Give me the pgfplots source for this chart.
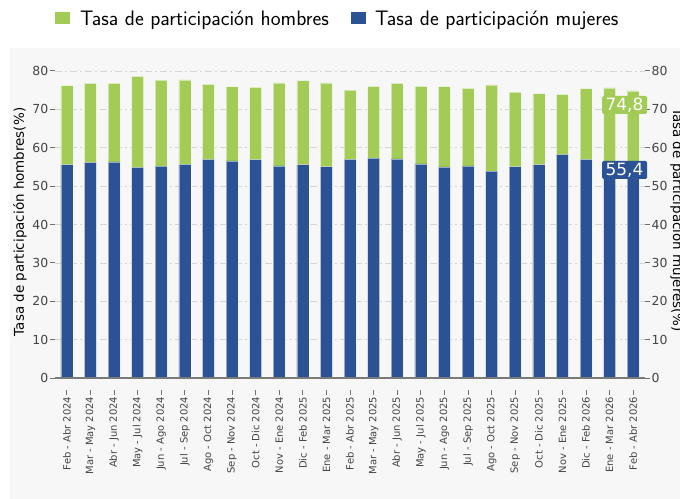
\documentclass[border=0pt]{standalone}
\usepackage{fontspec}
\setmainfont{DejaVu Sans}
\usepackage{pgfplots}
\pgfplotsset{compat=1.18}
\definecolor{bgc}{HTML}{F7F7F7}
\definecolor{gcol}{HTML}{A2CC55}
\definecolor{bcol}{HTML}{2A5294}
\definecolor{txt}{HTML}{444444}
\definecolor{tickc}{HTML}{707070}
\definecolor{gridc}{HTML}{D6D6D6}
\definecolor{zcol}{HTML}{7A7A7A}
\pgfplotsset{
  common/.style={
    at={(55bp,109bp)}, anchor=south west, scale only axis,
    width=590bp, height=319bp,
    xmin=-0.5, xmax=24.5, ymin=-3.1, ymax=80,
    ytick={0,10,...,80},
    axis line style={draw=none},
    tick align=outside,
    major tick length=5bp,
    tick style={tickc, line width=1bp},
    /pgf/number format/assume math mode=true,
    yticklabel style={font=\fontsize{12.5}{14}\selectfont, text=txt, inner sep=1.5bp},
  }
}
\begin{document}
\begin{tikzpicture}[x=1bp,y=1bp]
\useasboundingbox (0,0) rectangle (680,499);
\fill[white] (0,0) rectangle (680,499);
\fill[bgc] (10,0) rectangle (680,451);
\begin{axis}[common,
  axis x line*=bottom, axis y line*=left,
  ymajorgrids,
  major grid style={gridc, line width=0.8bp, dash pattern=on 7bp off 3bp on 2bp off 3bp},
  ybar, bar width=12bp,
  xtick={0,...,24},
  xticklabels={Feb - Abr 2024, Mar - May 2024, Abr - Jun 2024, May - Jul 2024, Jun - Ago 2024, Jul - Sep 2024, Ago - Oct 2024, Sep - Nov 2024, Oct - Dic 2024, Nov - Ene 2024, Dic - Feb 2025, Ene - Mar 2025, Feb - Abr 2025, Mar - May 2025, Abr - Jun 2025, May - Jul 2025, Jun - Ago 2025, Jul - Sep 2025, Ago - Oct 2025, Sep - Nov 2025, Oct - Dic 2025, Nov - Ene 2025, Dic - Feb 2026, Ene - Mar 2026, Feb - Abr 2026},
  xticklabel style={rotate=90, anchor=east, font=\fontsize{10}{12}\selectfont, text=txt, inner sep=1.5bp},
]
\addplot[fill=gcol, draw=white, draw opacity=0.5, line width=0.6bp, bar shift=0pt] coordinates {
(0,76.2) (1,76.75) (2,76.8) (3,78.6) (4,77.6) (5,77.7) (6,76.5) (7,75.9) (8,75.7) (9,76.9)
(10,77.5) (11,76.9) (12,75.0) (13,76.0) (14,76.8) (15,76.0) (16,75.9) (17,75.5) (18,76.4) (19,74.5)
(20,74.1) (21,73.9) (22,75.4) (23,75.6) (24,74.8)};
\addplot[fill=bcol, draw=white, draw opacity=0.5, line width=0.6bp, bar shift=0pt] coordinates {
(0,55.6) (1,56.2) (2,56.3) (3,54.9) (4,55.2) (5,55.7) (6,57.0) (7,56.6) (8,56.9) (9,55.3)
(10,55.6) (11,55.1) (12,57.0) (13,57.3) (14,57.1) (15,55.8) (16,55.0) (17,55.3) (18,53.9) (19,55.1)
(20,55.6) (21,58.3) (22,57.0) (23,56.3) (24,55.4)};
\draw[zcol, line width=2bp] (axis cs:-0.5,0) -- (axis cs:24.5,0);
\end{axis}
\begin{axis}[common, axis y line*=right, axis x line=none]
\addplot[draw=none] coordinates {(0,0)};
\end{axis}
% value labels
\node[fill=gcol, text=white, rounded corners=1.5bp, inner sep=0pt, minimum width=45bp, minimum height=18bp, font=\fontsize{17}{18}\selectfont] at (624.5,394) {74,8};
\node[fill=bcol, text=white, rounded corners=1.5bp, inner sep=0pt, minimum width=45bp, minimum height=18bp, font=\fontsize{17}{18}\selectfont] at (624.5,329) {55,4};
% axis titles
\node[rotate=90, text=black, font=\fontsize{13.5}{16}\selectfont] at (20,277) {Tasa de participación hombres(\%)};
\node[rotate=-90, text=black, font=\fontsize{13.5}{16}\selectfont] at (677,279) {Tasa de participación mujeres(\%)};
% legend
\fill[gcol] (55,475) rectangle (70,487);
\node[anchor=base west, inner sep=0pt, font=\sffamily\fontsize{21}{23}\selectfont] at (80,473) {Tasa de participación hombres};
\fill[bcol] (351,475) rectangle (366,487);
\node[anchor=base west, inner sep=0pt, font=\sffamily\fontsize{21}{23}\selectfont] at (375,473) {Tasa de participación mujeres};
\end{tikzpicture}
\end{document}
